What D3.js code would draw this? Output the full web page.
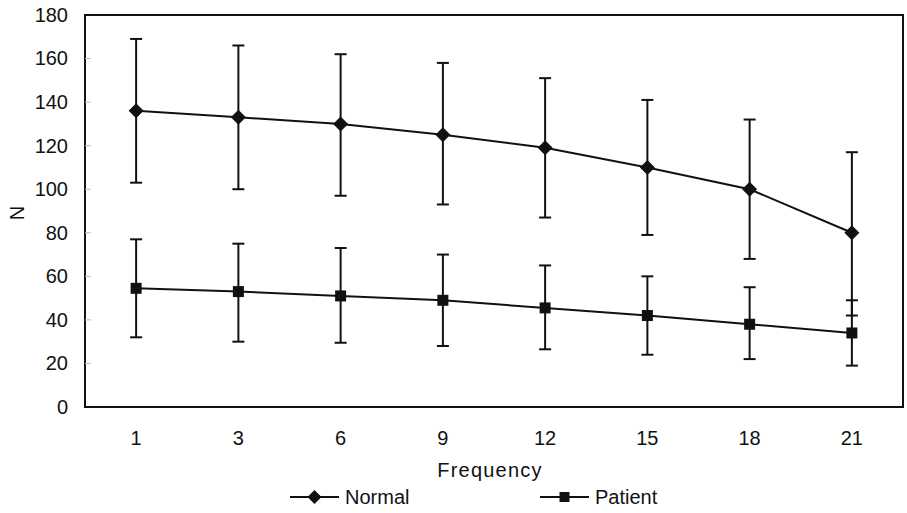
<!DOCTYPE html>
<meta charset="utf-8">
<style>
body { margin: 0; background: #fff; }
svg { font-family: "Liberation Sans", Arial, sans-serif; }
</style>
<body>
<svg width="907" height="513" id="vis"></svg>
<script src="https://d3js.org/d3.v7.min.js"></script>
<script>
var categories = ["1", "3", "6", "9", "12", "15", "18", "21"];
var normalMean = [136, 133, 130, 125, 119, 110, 100, 80];
var normalUp   = [169, 166, 162, 158, 151, 141, 132, 117];
var normalLow  = [103, 100, 97, 93, 87, 79, 68, 42];
var patientMean = [54.5, 53, 51, 49, 45.5, 42, 38, 34];
var patientUp   = [77, 75, 73, 70, 65, 60, 55, 49];
var patientLow  = [32, 30, 29.5, 28, 26.5, 24, 22, 19];
var yTicks = [0, 20, 40, 60, 80, 100, 120, 140, 160, 180];

var svg = d3.select("svg"),
    margin = {top: 15, right: 4, bottom: 106, left: 85},
    width = +svg.attr("width") - margin.left - margin.right,
    height = +svg.attr("height") - margin.top - margin.bottom;

var g = svg.append("g")
    .attr("transform", "translate(" + margin.left + "," + margin.top + ")");

var x = d3.scaleBand().domain(categories).range([0, width]);
var y = d3.scaleLinear().domain([0, 180]).range([height, 0]);

var fs = 20;

// frame
g.append("rect")
    .attr("width", width).attr("height", height)
    .attr("fill", "none").attr("stroke", "#111").attr("stroke-width", 2);

// y axis labels and faint inner ticks
var yaxis = g.append("g")
    .call(d3.axisLeft(y).tickValues(yTicks).tickSize(0).tickPadding(17));
yaxis.select(".domain").remove();
yaxis.selectAll("text").style("font-size", fs + "px").attr("fill", "#111")
    .attr("font-family", "Liberation Sans, Arial, sans-serif");
g.selectAll(".ytick").data(yTicks.slice(1, -1)).enter().append("line")
    .attr("x1", 0).attr("x2", 6)
    .attr("y1", function(d) { return y(d); }).attr("y2", function(d) { return y(d); })
    .attr("stroke", "#bbb").attr("stroke-width", 1);

// x axis labels
var xaxis = g.append("g")
    .attr("transform", "translate(0," + height + ")")
    .call(d3.axisBottom(x).tickSize(0).tickPadding(24));
xaxis.select(".domain").remove();
xaxis.selectAll("text").style("font-size", fs + "px").attr("fill", "#111")
    .attr("font-family", "Liberation Sans, Arial, sans-serif");

svg.append("text")
    .attr("transform", "translate(24," + (margin.top + height / 2 + 2) + ") rotate(-90)")
    .attr("text-anchor", "middle").style("font-size", fs + "px").attr("fill", "#111")
    .text("N");

svg.append("text")
    .attr("x", 490).attr("y", 477)
    .attr("text-anchor", "middle").style("font-size", fs + "px").attr("fill", "#111")
    .attr("letter-spacing", "1.2px")
    .text("Frequency");

function cx(i) { return x(categories[i]) + x.bandwidth() / 2; }

function diamond(r) { return "M0," + (-r) + "L" + r + ",0L0," + r + "L" + (-r) + ",0Z"; }
function square(r) { return "M" + (-r) + "," + (-r) + "h" + 2 * r + "v" + 2 * r + "h" + (-2 * r) + "Z"; }

function drawSeries(mean, up, low, shape) {
    var idx = d3.range(categories.length);
    var s = g.append("g");
    // error bars
    idx.forEach(function(i) {
        s.append("line")
            .attr("x1", cx(i)).attr("x2", cx(i))
            .attr("y1", y(up[i])).attr("y2", y(low[i]))
            .attr("stroke", "#111").attr("stroke-width", 2);
        [up[i], low[i]].forEach(function(v) {
            s.append("line")
                .attr("x1", cx(i) - 6).attr("x2", cx(i) + 6)
                .attr("y1", y(v)).attr("y2", y(v))
                .attr("stroke", "#111").attr("stroke-width", 2);
        });
    });
    var line = d3.line().x(function(i) { return cx(i); }).y(function(i) { return y(mean[i]); });
    s.append("path").datum(idx)
        .attr("d", line).attr("fill", "none")
        .attr("stroke", "#111").attr("stroke-width", 2);
    s.selectAll(".m").data(idx).enter().append("path")
        .attr("transform", function(i) { return "translate(" + cx(i) + "," + y(mean[i]) + ")"; })
        .attr("d", shape === "diamond" ? diamond(7.5) : square(5.5))
        .attr("fill", "#111");
}

drawSeries(normalMean, normalUp, normalLow, "diamond");
drawSeries(patientMean, patientUp, patientLow, "square");

// legend
var legend = [
    {name: "Normal", x: 290, shape: "diamond"},
    {name: "Patient", x: 540, shape: "square"}
];
legend.forEach(function(l) {
    var lg = svg.append("g").attr("transform", "translate(" + l.x + ",497)");
    lg.append("line").attr("x1", 0).attr("x2", 49)
        .attr("stroke", "#111").attr("stroke-width", 2);
    lg.append("path").attr("transform", "translate(24.5,0)")
        .attr("d", l.shape === "diamond" ? diamond(7) : square(5))
        .attr("fill", "#111");
    lg.append("text").attr("x", 55).attr("y", 7)
        .style("font-size", fs + "px").attr("fill", "#111").text(l.name);
});
</script>
</body>
